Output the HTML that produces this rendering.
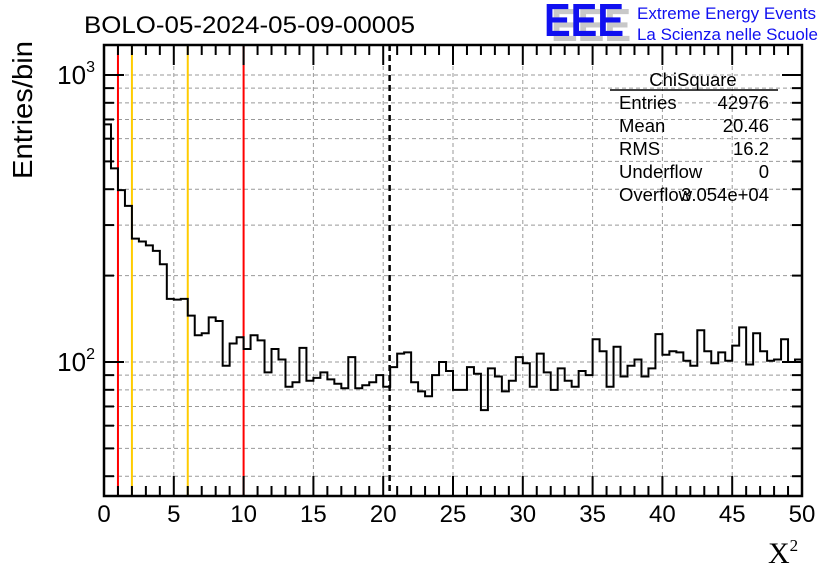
<!DOCTYPE html>
<html><head><meta charset="utf-8"><style>
body{margin:0;background:#fff;}
svg text{font-family:"Liberation Sans",sans-serif;}
</style></head><body>
<svg id="chart" width="836" height="572" viewBox="0 0 836 572" xmlns="http://www.w3.org/2000/svg">
<rect width="836" height="572" fill="#fff"/>
<g id="grid"></g>
<g id="cuts"></g>
<path id="hist" fill="none" stroke="#000" stroke-width="2"/>
<g id="axes"></g>
<text x="84" y="33" font-size="24" textLength="331" lengthAdjust="spacingAndGlyphs">BOLO-05-2024-05-09-00005</text>
<text transform="translate(32,110) rotate(-90)" text-anchor="middle" font-size="28" textLength="138" lengthAdjust="spacingAndGlyphs">Entries/bin</text>
<text x="768" y="563" font-size="30" style="font-family:'Liberation Serif',serif">X<tspan font-size="17" dy="-12">2</tspan></text>
<g>
<text x="551" y="41" font-size="46" font-weight="bold" fill="#c8c8c8" textLength="80" lengthAdjust="spacingAndGlyphs">EEE</text>
<text x="544" y="36" font-size="46" font-weight="bold" fill="#1010f0" textLength="80" lengthAdjust="spacingAndGlyphs">EEE</text>
<text x="637" y="19" font-size="17" fill="#1010f0" textLength="179" lengthAdjust="spacingAndGlyphs">Extreme Energy Events</text>
<text x="637" y="40" font-size="17" fill="#1010f0" textLength="181" lengthAdjust="spacingAndGlyphs">La Scienza nelle Scuole</text>
</g>
<g font-size="18.5">
<text x="693" y="86" text-anchor="middle">ChiSquare</text>
<line x1="610" y1="90" x2="778" y2="90" stroke="#000" stroke-width="1.5"/>
<text x="619" y="109">Entries</text><text x="769" y="109" text-anchor="end">42976</text>
<text x="619" y="132">Mean</text><text x="769" y="132" text-anchor="end">20.46</text>
<text x="619" y="155">RMS</text><text x="769" y="155" text-anchor="end">16.2</text>
<text x="619" y="178">Underflow</text><text x="769" y="178" text-anchor="end">0</text>
<text x="619" y="201">Overflow</text><text x="769" y="201" text-anchor="end">3.054e+04</text>
</g>
</svg>
<script>
const binValues=[673,473,397,350,269,263,255,244,219,166,165,166,145,124,126,143,139,97,116,122,111,124,119,92,111,102,82,85,112,86,88,92,87,84,81,104,81,83,85,90,82,96,107,108,85,79,76,90,100,93,80,80,96,91,68,95,89,79,86,104,99,82,107,92,80,95,86,82,93,90,120,109,82,113,89,97,102,89,95,125,106,109,108,101,97,129,109,99,108,101,114,132,98,126,109,101,102,120,100,102];
const xTicks=[0,5,10,15,20,25,30,35,40,45,50];
const redCuts=[1,10];
const orangeCuts=[2,6];
const meanValue=20.46;
const binWidth=0.5;
const X0=104,X1=802,Y0=45,Y1=496,XMIN=0,XMAX=50;
const DEC=287,YREF=362;
const sx=v=>X0+(v-XMIN)/(XMAX-XMIN)*(X1-X0);
const sy=v=>YREF-(Math.log10(v)-2)*DEC;
const NS="http://www.w3.org/2000/svg";
function mk(parent,tag,attrs){const e=document.createElementNS(NS,tag);for(const k in attrs)e.setAttribute(k,attrs[k]);parent.appendChild(e);return e;}
const grid=document.getElementById('grid'),axes=document.getElementById('axes'),cuts=document.getElementById('cuts');
const yLevels=[40,50,60,70,80,90,100,200,300,400,500,600,700,800,900,1000];
yLevels.forEach(v=>{const y=sy(v);
 const g=mk(grid,'line',{x1:X0,x2:X1,y1:y,y2:y,stroke:'#999','stroke-dasharray':'4,3','stroke-width':1});
 
 
 const major=(v===100||v===1000);const L=major?20:10;
 const t1=mk(axes,'line',{x1:X0,x2:X0+L,y1:y,y2:y,stroke:'#000','stroke-width':2});
 
 
 const t2=mk(axes,'line',{x1:X1,x2:X1-L,y1:y,y2:y,stroke:'#000','stroke-width':2});
 
 
 if(major){const t=mk(axes,'text',{x:X0-9,y:y+9,'text-anchor':'end','font-size':26});
  
  
  t.innerHTML='10<tspan font-size="16" dy="-12">'+Math.round(Math.log10(v))+'</tspan>';}
});
xTicks.forEach(v=>{const x=sx(v);
 if(v>XMIN&&v<XMAX){const g=mk(grid,'line',{x1:x,x2:x,y1:Y0,y2:Y1,stroke:'#999','stroke-dasharray':'4,3','stroke-width':1});
 
 }
 const t=mk(axes,'text',{x:x,y:522,'text-anchor':'middle','font-size':24});
 
 
 t.textContent=v;
});
for(let v=XMIN;v<=XMAX;v++){const x=sx(v);const L=(v%5===0)?20:10;
 const a=mk(axes,'line',{x1:x,x2:x,y1:Y1,y2:Y1-L,stroke:'#000','stroke-width':2});
 
 
 const b=mk(axes,'line',{x1:x,x2:x,y1:Y0,y2:Y0+L,stroke:'#000','stroke-width':2});
 
 }
redCuts.forEach(v=>{const l=mk(cuts,'line',{x1:sx(v),x2:sx(v),y1:Y0,y2:Y1,stroke:'#f00','stroke-width':2});
 
 });
orangeCuts.forEach(v=>{const l=mk(cuts,'line',{x1:sx(v),x2:sx(v),y1:Y0,y2:Y1,stroke:'#fc0','stroke-width':2});
 
 });
const ml=mk(cuts,'line',{x1:sx(meanValue),x2:sx(meanValue),y1:Y0,y2:Y1,stroke:'#000','stroke-width':2.5,'stroke-dasharray':'6,4'});


const fr=mk(axes,'rect',{x:X0,y:Y0,width:X1-X0,height:Y1-Y0,fill:'none',stroke:'#000','stroke-width':2.5});


let d='M'+sx(0)+','+sy(binValues[0]);
binValues.forEach((v,i)=>{const y=sy(v);d+=' L'+sx(i*binWidth)+','+y+' L'+sx((i+1)*binWidth)+','+y;});
document.getElementById('hist').setAttribute('d',d);
</script>
</body></html>
